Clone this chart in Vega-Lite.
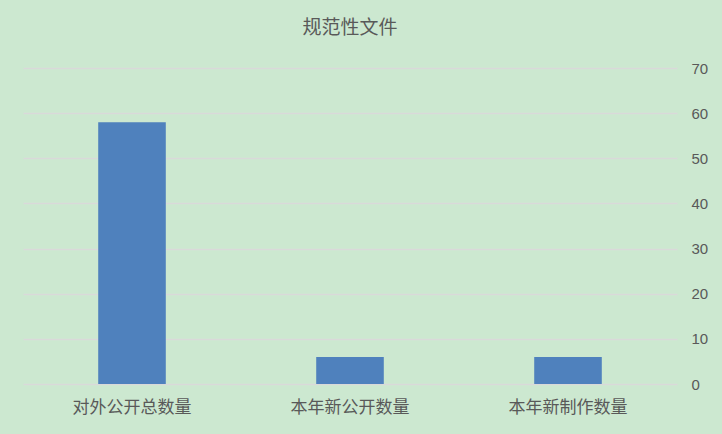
{
  "$schema": "https://vega.github.io/schema/vega-lite/v6.json",
  "width": 654,
  "height": 316,
  "autosize": "none",
  "padding": {"left": 23, "top": 68, "right": 45, "bottom": 50},
  "background": "#CCE8D0",
  "title": {
    "text": "规范性文件",
    "font": "Noto Sans CJK SC",
    "fontSize": 19,
    "fontWeight": "normal",
    "color": "#595959",
    "anchor": "middle",
    "offset": 23
  },
  "data": {
    "values": [
      {"category": "对外公开总数量", "value": 58},
      {"category": "本年新公开数量", "value": 6},
      {"category": "本年新制作数量", "value": 6}
    ]
  },
  "mark": {"type": "bar", "color": "#4F81BD"},
  "encoding": {
    "x": {
      "field": "category",
      "type": "nominal",
      "sort": null,
      "scale": {"paddingInner": 0.69, "paddingOuter": 0.345},
      "axis": {
        "title": null,
        "labelAngle": 0,
        "labelFont": "Noto Sans CJK SC",
        "labelFontSize": 17,
        "labelColor": "#595959",
        "domain": false,
        "ticks": false,
        "labelPadding": 15
      }
    },
    "y": {
      "field": "value",
      "type": "quantitative",
      "scale": {"domain": [0, 70]},
      "axis": {
        "orient": "right",
        "title": null,
        "values": [0, 10, 20, 30, 40, 50, 60, 70],
        "labelFont": "Liberation Sans",
        "labelFontSize": 15,
        "labelColor": "#595959",
        "domain": false,
        "ticks": false,
        "labelPadding": 14,
        "gridColor": "#D9D9D9",
        "gridWidth": 1.5
      }
    }
  },
  "config": {"view": {"stroke": null}}
}
